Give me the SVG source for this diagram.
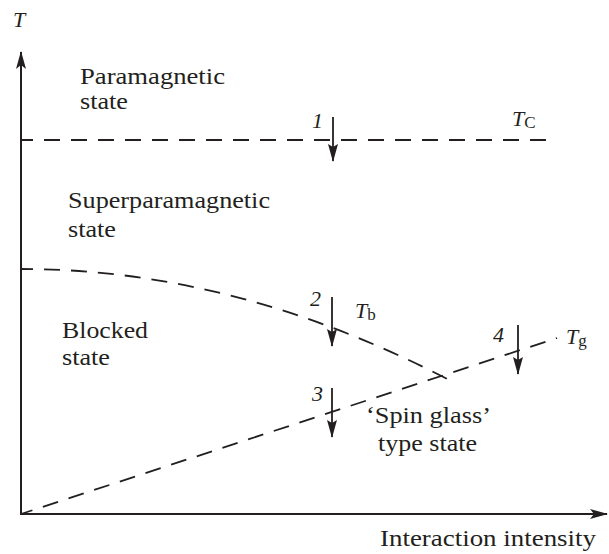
<svg xmlns="http://www.w3.org/2000/svg" width="609" height="554" viewBox="0 0 609 554">
<style>
text{font-family:"Liberation Serif","Times New Roman",serif;fill:#231f20}
.lbl{font-size:24px}
.it{font-style:italic;font-size:22px}
.ax{stroke:#231f20;stroke-width:2;fill:none}
.dash{stroke:#231f20;stroke-width:1.8;fill:none;stroke-dasharray:16 11;stroke-dashoffset:4}
.arr{stroke:#231f20;stroke-width:1.8;fill:none;marker-end:url(#ah)}
</style>
<defs>
<marker id="ah" viewBox="0 0 18 10" refX="17" refY="5" markerWidth="18" markerHeight="10" markerUnits="userSpaceOnUse" orient="auto">
<path d="M0,0 L18,5 L0,10 L3,5 Z" fill="#231f20"/>
</marker>
<marker id="axh" viewBox="0 0 18 10" refX="17" refY="5" markerWidth="18" markerHeight="10" markerUnits="userSpaceOnUse" orient="auto">
<path d="M0,0 L18,5 L0,10 L4,5 Z" fill="#231f20"/>
</marker>
</defs>
<g id="axes">
<line class="ax" x1="21" y1="515" x2="21" y2="52" marker-end="url(#axh)"/>
<line class="ax" x1="20" y1="514" x2="607" y2="514" marker-end="url(#axh)"/>
<text class="it" x="13" y="27">T</text>
<text class="lbl" x="380" y="546" textLength="216" lengthAdjust="spacingAndGlyphs">Interaction intensity</text>
</g>
<g id="connectors">
<line class="dash" x1="21" y1="140" x2="557" y2="140"/>
<path class="dash" d="M21,269 Q237,269 453,382"/>
<line class="dash" x1="21" y1="514" x2="557" y2="338"/>
<line class="arr" x1="333" y1="117" x2="333" y2="161"/>
<line class="arr" x1="332" y1="297" x2="332" y2="346"/>
<line class="arr" x1="332" y1="388" x2="332" y2="437"/>
<line class="arr" x1="518" y1="325" x2="518" y2="374"/>
</g>
<g id="paramagnetic">
<text class="lbl" x="80" y="84" textLength="145" lengthAdjust="spacingAndGlyphs">Paramagnetic</text>
<text class="lbl" x="80" y="109" textLength="48" lengthAdjust="spacingAndGlyphs">state</text>
</g>
<g id="superparamagnetic">
<text class="lbl" x="68" y="208" textLength="202" lengthAdjust="spacingAndGlyphs">Superparamagnetic</text>
<text class="lbl" x="68" y="237" textLength="48" lengthAdjust="spacingAndGlyphs">state</text>
</g>
<g id="blocked">
<text class="lbl" x="62" y="338" textLength="86" lengthAdjust="spacingAndGlyphs">Blocked</text>
<text class="lbl" x="62" y="365" textLength="48" lengthAdjust="spacingAndGlyphs">state</text>
</g>
<g id="spinglass">
<text class="lbl" x="366" y="423" textLength="125" lengthAdjust="spacingAndGlyphs">‘Spin glass’</text>
<text class="lbl" x="378" y="451" textLength="99" lengthAdjust="spacingAndGlyphs">type state</text>
</g>
<g id="labels">
<text class="it" x="312" y="128">1</text>
<text class="it" x="310" y="306">2</text>
<text class="it" x="312" y="401">3</text>
<text class="it" x="493" y="342">4</text>
<text class="it" x="512" y="126">T<tspan font-style="normal" font-size="17" dy="2">C</tspan></text>
<text class="it" x="355" y="318">T<tspan font-style="normal" font-size="17" dy="2">b</tspan></text>
<text class="it" x="566" y="344">T<tspan font-style="normal" font-size="17" dy="2">g</tspan></text>
</g>
</svg>
